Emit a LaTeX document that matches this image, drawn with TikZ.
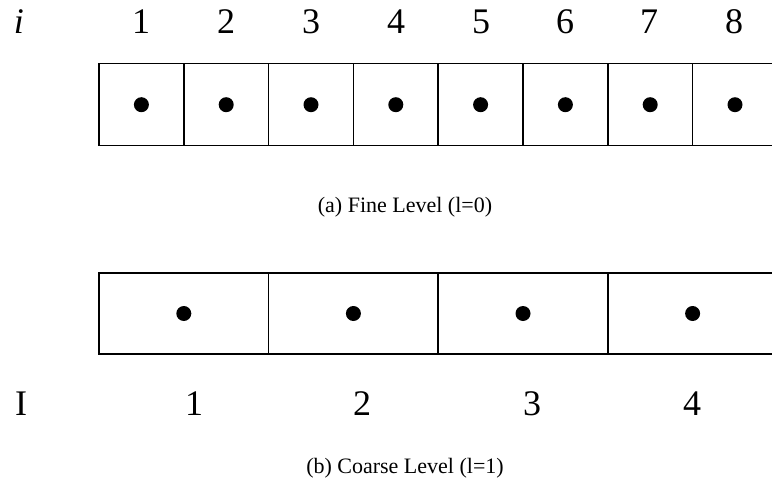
\documentclass[tikz,border=0pt]{standalone}
\usepackage{fontspec}
\setmainfont{Liberation Serif}
\begin{document}
\begin{tikzpicture}[x=1pt,y=-1pt,
  cellbox/.style={draw=black,line width=1.5pt,minimum height=82pt,inner sep=0pt},
  pt/.style={fill=black,circle,inner sep=0pt,minimum size=15pt},
  idx/.style={anchor=base,font=\fontsize{36}{40}\selectfont},
  captext/.style={anchor=base,font=\fontsize{22}{26}\selectfont}]
\useasboundingbox (0,0) rectangle (772,482);
\begin{scope}
\clip (0,0) rectangle (772,482);
% fine level
\foreach \k in {1,...,8}{
  \node[cellbox,minimum width=84.8pt] (f\k) at ({99+84.8*(\k-0.5)},104.7) {};
  \node[pt] (fd\k) at (f\k.center) {};
}
% coarse level
\foreach \k in {1,...,4}{
  \node[cellbox,minimum width=169.6pt,minimum height=81pt] (c\k) at ({99+169.6*(\k-0.5)},313.5) {};
  \node[pt] (cd\k) at (c\k.center) {};
}
\end{scope}
\node[idx] (li) at (19,33) {\textit{i}};
\foreach \k/\x in {1/141,2/226,3/311,4/396,5/481,6/565,7/649,8/734}{
  \node[idx] (n\k) at (\x,33) {\k};
}
\node[idx] (lI) at (21,415) {I};
\foreach \k/\x in {1/194,2/362,3/532,4/692}{
  \node[idx] (m\k) at (\x,415) {\k};
}
\node[captext] (capa) at (405,212) {(a) Fine Level (l=0)};
\node[captext] (capb) at (405,473) {(b) Coarse Level (l=1)};
\end{tikzpicture}
\end{document}
